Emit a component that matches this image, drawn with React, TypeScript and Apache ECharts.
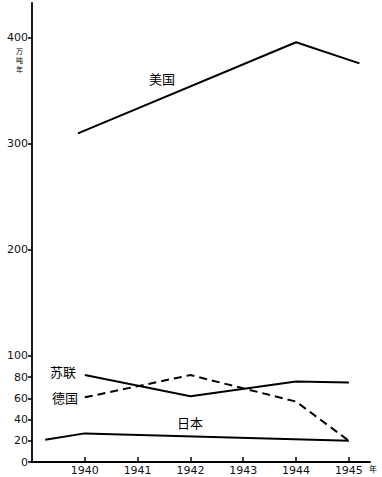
import React, { useEffect, useRef } from "react";
import * as echarts from "echarts";

const yearTicks = [1940, 1941, 1942, 1943, 1944, 1945];
const yTicks = [0, 20, 40, 60, 80, 100, 200, 300, 400];

const usYears = [1939.87, 1944, 1945.2];
const usValues = [310, 396, 376];
const suYears = [1940, 1942, 1944, 1945];
const suValues = [82, 62, 76, 75];
const deYears = [1940, 1942, 1944, 1945];
const deValues = [61, 82, 57, 20];
const jpYears = [1939.25, 1940, 1945];
const jpValues = [21, 27, 20];

const pairs = (xs: number[], ys: number[]) => xs.map((x, i) => [x, ys[i]]);

export default function App() {
  const ref = useRef<HTMLDivElement>(null);
  useEffect(() => {
    if (!ref.current) return;
    const chart = echarts.init(ref.current, undefined, { renderer: "svg" });
    const font = "DejaVu Sans";
    const lineBase = { type: "line", symbol: "none", silent: true };
    chart.setOption({
      animation: false,
      backgroundColor: "#fff",
      grid: { left: 32, right: 12, top: 3, bottom: 15 },
      xAxis: {
        type: "value",
        min: 1939,
        max: 1945.4,
        axisLine: { onZero: false, lineStyle: { color: "#000", width: 1.8 } },
        axisTick: { customValues: yearTicks, inside: true, length: 5, lineStyle: { color: "#000", width: 1.5 } },
        axisLabel: {
          customValues: yearTicks,
          color: "#111",
          fontFamily: font,
          fontSize: 11,
          margin: 3,
          formatter: (v: number) => String(Math.round(v)),
        },
        splitLine: { show: false },
      },
      yAxis: {
        type: "value",
        min: 0,
        max: 433,
        axisLine: { show: true, lineStyle: { color: "#000", width: 1.8 } },
        axisTick: { customValues: yTicks, length: 4, lineStyle: { color: "#000", width: 1.5 } },
        axisLabel: {
          customValues: yTicks,
          color: "#111",
          fontFamily: font,
          fontSize: 11,
          margin: 4,
        },
        splitLine: { show: false },
      },
      series: [
        { ...lineBase, name: "美国", data: pairs(usYears, usValues), lineStyle: { color: "#000", width: 2 } },
        { ...lineBase, name: "苏联", data: pairs(suYears, suValues), lineStyle: { color: "#000", width: 2 } },
        { ...lineBase, name: "德国", data: pairs(deYears, deValues), lineStyle: { color: "#000", width: 2, type: [8, 5] } },
        { ...lineBase, name: "日本", data: pairs(jpYears, jpValues), lineStyle: { color: "#000", width: 2 } },
      ],
      graphic: [
        { type: "text", left: 149, top: 72, style: { text: "美国", fontSize: 13, fontFamily: "Noto Sans CJK SC", fill: "#000" } },
        { type: "text", left: 50, top: 365, style: { text: "苏联", fontSize: 13, fontFamily: "Noto Sans CJK SC", fill: "#000" } },
        { type: "text", left: 52, top: 391, style: { text: "德国", fontSize: 13, fontFamily: "Noto Sans CJK SC", fill: "#000" } },
        { type: "text", left: 177, top: 416, style: { text: "日本", fontSize: 13, fontFamily: "Noto Sans CJK SC", fill: "#000" } },
        { type: "text", left: 369, top: 464, style: { text: "年", fontSize: 8, fontFamily: "Noto Sans CJK SC", fill: "#000" } },
        { type: "text", left: 16, top: 46, style: { text: "万\n吨\n年", fontSize: 7, lineHeight: 9, fontFamily: "Noto Sans CJK SC", fill: "#000" } },
      ],
    });
    return () => chart.dispose();
  }, []);
  return <div ref={ref} style={{ position: "fixed", left: 0, top: 0, width: 382, height: 477 }} />;
}
